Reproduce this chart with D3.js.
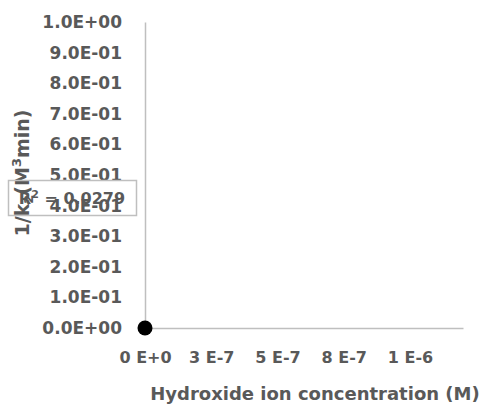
<!DOCTYPE html>
<html>
<head>
<meta charset="utf-8">
<script src="https://cdn.jsdelivr.net/npm/d3@7"></script>
<style>
  body { margin: 0; background: #fff; }
  text { font-family: "DejaVu Sans", sans-serif; font-weight: bold; fill: #595959; }
</style>
</head>
<body>
<div id="chart"></div>
<script>
// data
var concentration = [0];
var invK2 = [0];
var rSquaredLabel = "0.0279";

var xTicks = [0, 2.5e-7, 5e-7, 7.5e-7, 1e-6];
var xTickLabels = ["0 E+0", "3 E-7", "5 E-7", "8 E-7", "1 E-6"];
var yTicks = [0, 0.1, 0.2, 0.3, 0.4, 0.5, 0.6, 0.7, 0.8, 0.9, 1.0];
var yTickLabels = ["0.0E+00", "1.0E-01", "2.0E-01", "3.0E-01", "4.0E-01", "5.0E-01",
                   "6.0E-01", "7.0E-01", "8.0E-01", "9.0E-01", "1.0E+00"];

var width = 483, height = 406;
var plot = { left: 145, right: 463, top: 22, bottom: 328 };

var svg = d3.select("#chart")
    .append("svg")
    .attr("width", width)
    .attr("height", height);

var x = d3.scaleLinear().domain([0, 1.2e-6]).range([plot.left, plot.right]);
var y = d3.scaleLinear().domain([0, 1]).range([plot.bottom, plot.top]);

// x axis
var xAxis = svg.append("g")
    .attr("transform", "translate(0," + plot.bottom + ")")
    .call(d3.axisBottom(x)
        .tickValues(xTicks)
        .tickFormat(function (d, i) { return xTickLabels[i]; })
        .tickSize(0)
        .tickPadding(24));
xAxis.select(".domain").attr("stroke", "#bfbfbf").attr("stroke-width", 1.5);
xAxis.selectAll("text").style("font-size", "16px").attr("fill", "#595959");

// y axis
var yAxis = svg.append("g")
    .attr("transform", "translate(" + plot.left + ",0)")
    .call(d3.axisLeft(y)
        .tickValues(yTicks)
        .tickFormat(function (d, i) { return yTickLabels[i]; })
        .tickSize(0)
        .tickPadding(23));
yAxis.select(".domain").attr("stroke", "#bfbfbf").attr("stroke-width", 1.5);
yAxis.selectAll("text").style("font-size", "17px").attr("fill", "#595959");

// x axis title
svg.append("text")
    .attr("x", 315)
    .attr("y", 400)
    .attr("text-anchor", "middle")
    .style("font-size", "18px")
    .text("Hydroxide ion concentration (M)");

// y axis title
var yTitle = svg.append("text")
    .attr("transform", "translate(29,173) rotate(-90)")
    .attr("text-anchor", "middle")
    .style("font-size", "19px");
yTitle.append("tspan").text("1/k");
yTitle.append("tspan").attr("dy", 4).style("font-size", "13px").text("2");
yTitle.append("tspan").attr("dy", -4).text("(M");
yTitle.append("tspan").attr("dy", -8).style("font-size", "13px").text("3");
yTitle.append("tspan").attr("dy", 8).text("min)");

// trendline label box
svg.append("rect")
    .attr("x", 8.5)
    .attr("y", 180.5)
    .attr("width", 128)
    .attr("height", 35)
    .attr("fill", "none")
    .attr("stroke", "#bfbfbf")
    .attr("stroke-width", 1.5);
var rLabel = svg.append("text")
    .attr("x", 72)
    .attr("y", 204)
    .attr("text-anchor", "middle")
    .style("font-size", "16px");
rLabel.append("tspan").text("R");
rLabel.append("tspan").attr("dy", -6).style("font-size", "11px").text("2");
rLabel.append("tspan").attr("dy", 6).text(" = " + rSquaredLabel);

// data points
svg.selectAll("circle")
    .data(concentration)
    .enter()
    .append("circle")
    .attr("cx", function (d) { return x(d); })
    .attr("cy", function (d, i) { return y(invK2[i]); })
    .attr("r", 7.5)
    .attr("fill", "#000");
</script>
</body>
</html>
